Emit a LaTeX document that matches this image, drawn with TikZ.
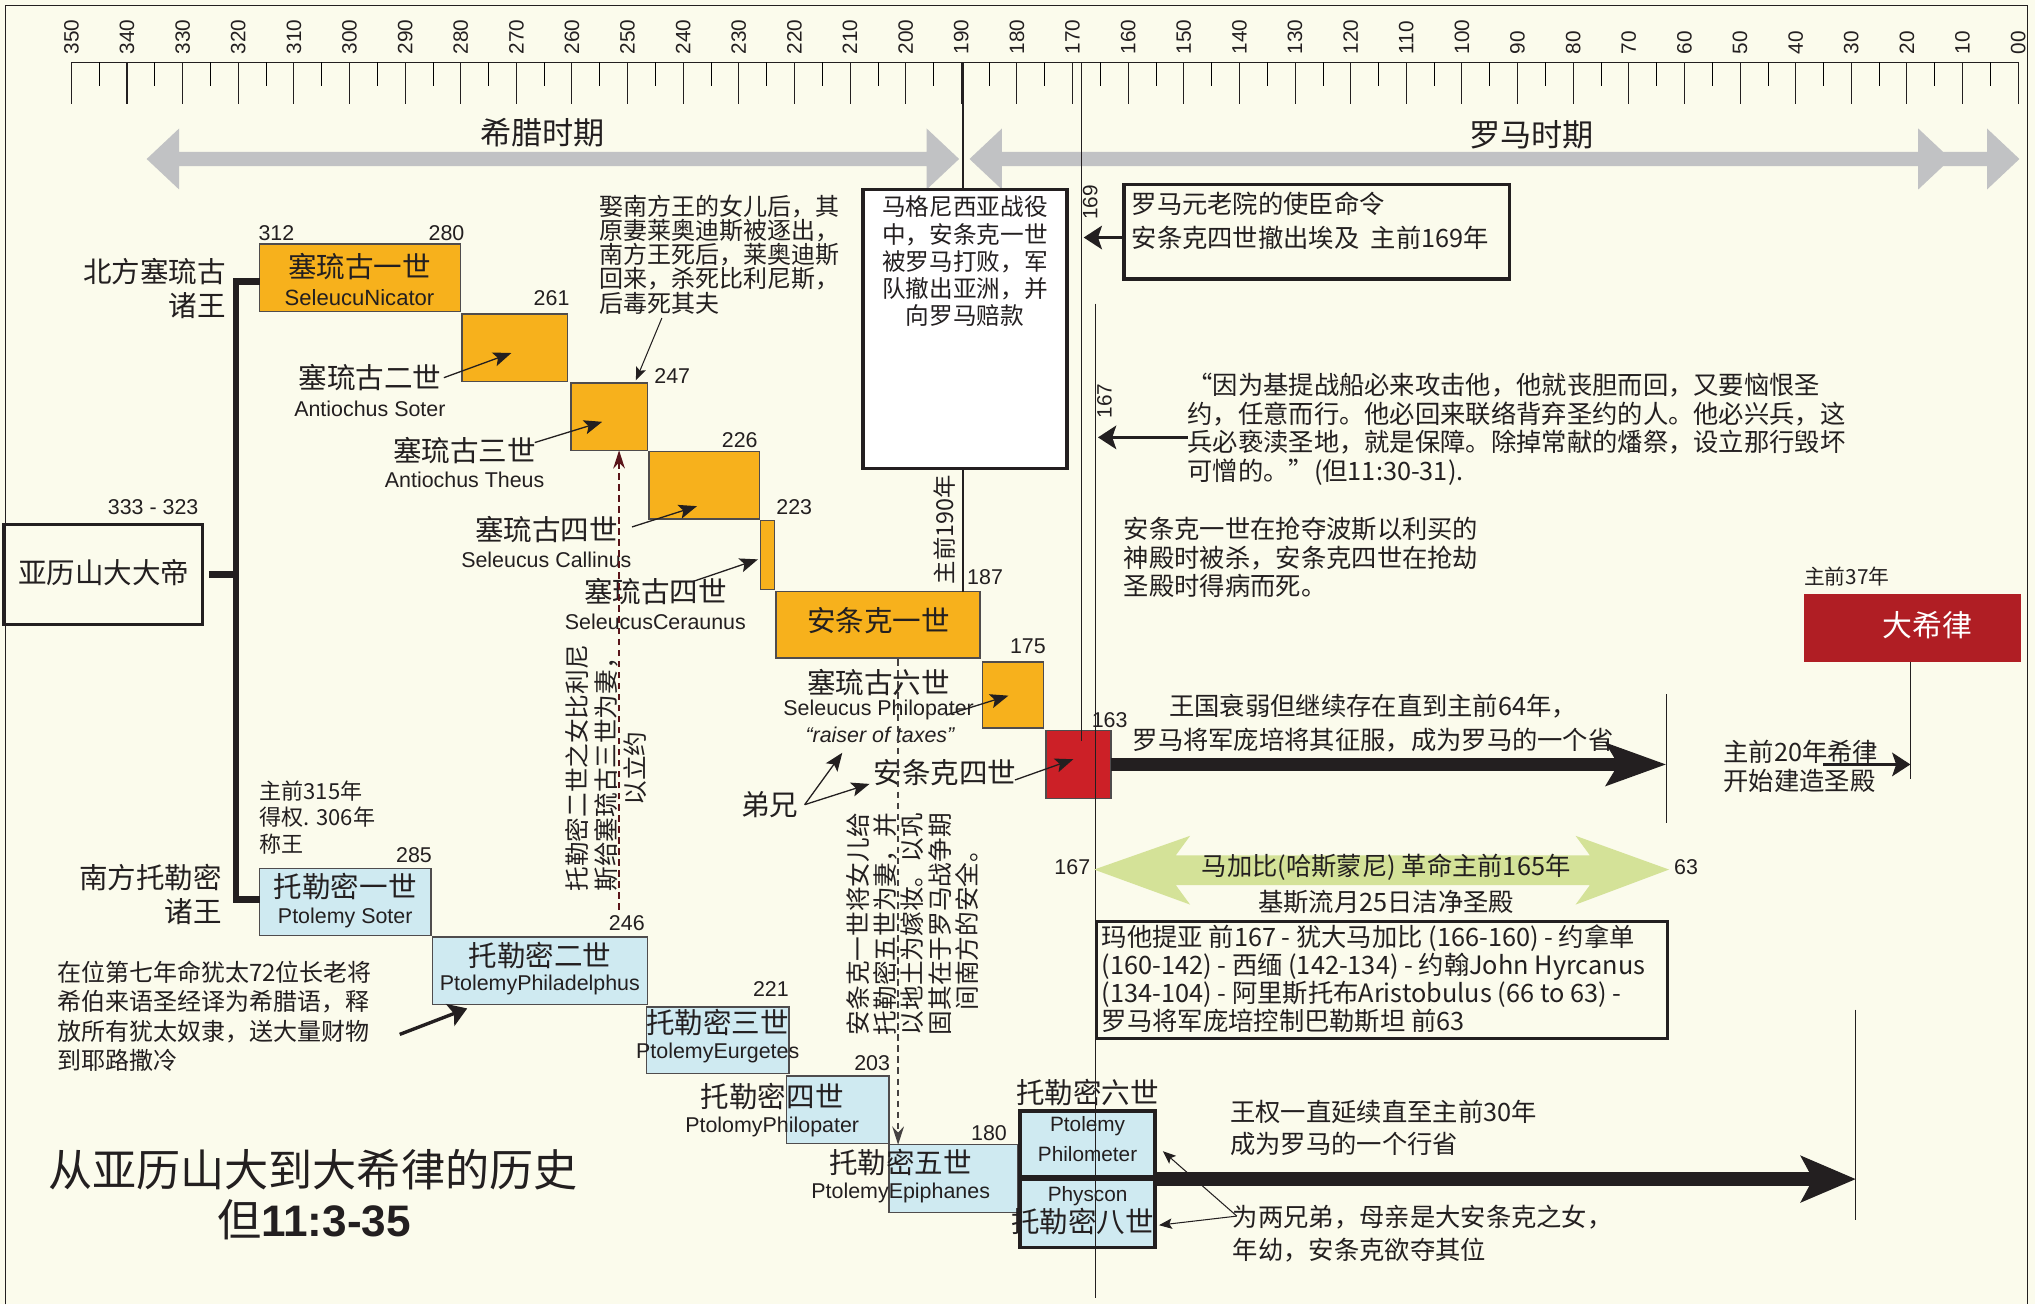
\documentclass[tikz,border=0pt]{standalone}
\usepackage{fontspec}
\setmainfont{Noto Sans CJK SC}
\newfontfamily\lat{Liberation Sans}
\usetikzlibrary{arrows.meta}

\definecolor{fundo}{RGB}{251,251,236}
\definecolor{tinta}{RGB}{35,31,32}
\definecolor{laranja}{RGB}{247,177,28}
\definecolor{azul}{RGB}{207,234,241}
\definecolor{vermelho}{RGB}{204,32,39}
\definecolor{vinho}{RGB}{176,30,36}
\definecolor{cinza}{RGB}{193,194,196}
\definecolor{verde}{RGB}{212,226,152}
\definecolor{marrom}{RGB}{90,20,25}

\newcommand{\tam}[2]{\fontsize{#1}{#2}\selectfont}

\begin{document}
\begin{tikzpicture}[x=1pt,y=-1pt,
  every node/.style={inner sep=0pt,outer sep=0pt,text=tinta},
  fina/.style={draw=tinta,line width=0.8pt},
  caixa/.style={draw=tinta!80,line width=1pt,anchor=north west},
  grossa/.style={draw=tinta,line width=2.6pt,anchor=north west},
  zh/.style={font=\tam{22}{26}},
  zhp/.style={font=\tam{19.5}{22}},
  en/.style={font=\lat\tam{16.5}{19}},
  ano/.style={font=\lat\tam{16.5}{19}},
  regua/.style={font=\lat\tam{16}{18},rotate=90,anchor=west},
  seta/.style={draw=tinta,line width=1pt,-{Stealth[length=14pt,width=11pt,inset=3pt]}},
  setafina/.style={draw=tinta,line width=0.8pt,-{Stealth[length=10pt,width=8pt,inset=2pt]}},
  setagrossa/.style={draw=tinta,line width=2.6pt,-{Stealth[length=14pt,width=18pt,inset=3pt]}},
  chave/.style={draw=tinta,line width=5pt},
  tracejado/.style={dash pattern=on 5pt off 3.5pt,line width=1pt}
]
\useasboundingbox (0,0) rectangle (1568,1005);

% fundo
\fill[fundo] (0,0) rectangle (1568,1005);
\draw[fina] (4,1005) -- (4,4) -- (1562,4) -- (1562,1005);

% regua
\draw[fina] (55,48) -- (1555,48);
\foreach \i [evaluate=\i as \xx using 55+42.857*\i] in {0,...,35}
  \draw[fina] (\xx,48) -- (\xx,80);
\foreach \i [evaluate=\i as \xx using 55+42.857*\i+21.43] in {0,...,34}
  \draw[line width=0.5pt] (\xx,48) -- (\xx,66);
\foreach \i [evaluate=\i as \xx using 55+42.857*\i, evaluate=\i as \anoR using int(350-10*\i)] in {0,...,34}
  \node[regua] (r\i) at (\xx,42) {\anoR};
\node[regua] (r35) at (1555,42) {00};

% periodos
\fill[cinza] (113,122.5) -- (138,99) -- (138,117) -- (714,117) -- (714,99) -- (739,122.5)
  -- (714,146) -- (714,128) -- (138,128) -- (138,146) -- cycle;
\fill[cinza] (747,122.5) -- (772,99) -- (772,117) -- (1531,117) -- (1531,128) -- (772,128) -- (772,146) -- cycle;
\fill[cinza] (1478,99) -- (1503,122.5) -- (1478,146) -- cycle;
\fill[cinza] (1531,99) -- (1556,122.5) -- (1531,146) -- cycle;
\node[font=\tam{24}{28}] (grego) at (418,102) {希腊时期};
\node[font=\tam{24}{28}] (romano) at (1180,104) {罗马时期};

% caixas selêucidas
\node[caixa,fill=laranja,minimum width=155pt,minimum height=52pt] (sel1) at (200,188) {};
\node[caixa,fill=laranja,minimum width=81pt,minimum height=52pt] (sel2) at (356,242) {};
\node[caixa,fill=laranja,minimum width=59pt,minimum height=52pt] (sel3) at (440,295) {};
\node[caixa,fill=laranja,minimum width=85pt,minimum height=52pt] (sel4) at (500,348) {};
\node[caixa,fill=laranja,minimum width=11pt,minimum height=53pt] (sel5) at (586,401) {};
\node[caixa,fill=laranja,minimum width=157pt,minimum height=51pt] (aq1) at (598,456) {};
\node[caixa,fill=laranja,minimum width=47pt,minimum height=51pt] (sel6) at (757,510) {};
\node[caixa,fill=vermelho,minimum width=50pt,minimum height=52pt] (av4) at (806,563) {};

% caixas ptolomaicas
\node[caixa,fill=azul,minimum width=132pt,minimum height=52pt] (p1) at (200,669) {};
\node[caixa,fill=azul,minimum width=166pt,minimum height=52pt] (p2) at (333,722) {};
\node[caixa,fill=azul,minimum width=110pt,minimum height=51pt] (p3) at (498,776) {};
\node[caixa,fill=azul,minimum width=79pt,minimum height=52pt] (p4) at (606,829) {};
\node[caixa,fill=azul,minimum width=99pt,minimum height=52pt] (p5) at (685,882) {};
\node[grossa,fill=azul,minimum width=104pt,minimum height=51pt] (p6) at (786,856) {};
\node[grossa,fill=azul,minimum width=104pt,minimum height=52pt] (p8) at (786,909) {};

% alexandre e chave
\node[grossa,fill=fundo,minimum width=153pt,minimum height=77pt] (alex) at (3,404) {};
\node[zh] (alexT) at (80,441) {亚历山大大帝};
\node[ano] (a333) at (118,391) {333 - 323};
\coordinate (ch1) at (182,217);
\coordinate (ch2) at (182,693);
\draw[chave] (sel1.west |- ch1) -- (ch1) -- (ch2) -- (p1.west |- ch2);
\draw[chave] ([xshift=5pt]alex.east) -- (alex.east -| ch1);
\node[zh,anchor=north east,align=right] (norte) at (174,199) {北方塞琉古\\诸王};
\node[zh,anchor=north east,align=right] (sul) at (171,666) {南方托勒密\\诸王};

% textos selêucidas
\node[zh] (n1) at (277,205) {塞琉古一世};
\node[en,font=\lat\tam{17}{19}] (n1e) at (277,229) {SeleucuNicator};
\node[ano] (a312) at (213,180) {312};
\node[ano] (a280) at (344,180) {280};
\node[ano] (a261) at (425,230) {261};
\node[ano] (a247) at (518,290) {247};
\node[ano] (a226) at (570,339) {226};
\node[ano] (a223) at (612,391) {223};
\node[ano] (a187) at (759,445) {187};
\node[ano] (a175) at (792,498) {175};
\node[ano] (a163) at (855,555) {163};

\node[zh] (n2) at (285,291) {塞琉古二世};
\node[en] (n2e) at (285,315) {Antiochus Soter};
\node[zh] (n3) at (358,347) {塞琉古三世};
\node[en] (n3e) at (358,370) {Antiochus Theus};
\node[zh] (n4) at (421,408) {塞琉古四世};
\node[en] (n4e) at (421,431) {Seleucus Callinus};
\node[zh] (n5) at (505,456) {塞琉古四世};
\node[en] (n5e) at (505,479) {SeleucusCeraunus};
\node[zh] (aq1T) at (677,478) {安条克一世};
\node[zh] (n7) at (677,526) {塞琉古六世};
\node[en] (n7e) at (677,547) {Seleucus Philopater};
\node[font=\lat\itshape\tam{16.5}{19}] (taxas) at (678,566) {“raiser of taxes”};
\node[zh] (n8) at (728,595) {安条克四世};
\node[zh] (irmao) at (593,620) {弟兄};

\coordinate (e2) at (394,272);
\coordinate (e3) at (464,325);
\coordinate (e4) at (537,390);
\coordinate (e5) at (584,431);
\coordinate (e7) at (777,536);
\coordinate (e8) at (827,585);
\draw[seta] ([xshift=2pt]n2.east) -- (e2);
\draw[seta] ([xshift=-1pt]n3.east |- 0,341) -- (e3);
\draw[seta] (487,406) -- (e4);
\draw[seta] (534,448) -- (e5);
\draw[seta] (729,551) -- (e7);
\draw[seta] (782,601) -- (e8);
\coordinate (ib) at (620,620);
\coordinate (ib1) at (649,580);
\coordinate (ib2) at (670,604);
\draw[seta] (ib) -- (ib1);
\draw[seta] (ib) -- (ib2);

% nota do casamento
\node[font=\tam{18.5}{18.7},anchor=north west,align=left] (casT) at (462,150) {娶南方王的女儿后，其\\原妻莱奥迪斯被逐出，\\南方王死后，莱奥迪斯\\回来，杀死比利尼斯，\\后毒死其夫};
\coordinate (c1) at (510,245);
\coordinate (c2) at (490,293);
\draw[setafina] (c1) -- (c2);

% magnesia
\coordinate (t190) at (742,48);
\draw[fina] (t190) -- (t190 |- aq1.north);
\node[grossa,fill=white,minimum width=157pt,minimum height=215pt] (mag) at (665,146) {};
\node[font=\tam{18.2}{21},align=center,anchor=north] (magT) at (743.5,151) {马格尼西亚战役\\中，安条克一世\\被罗马打败，军\\队撤出亚洲，并\\向罗马赔款};
\node[font=\tam{18}{21},rotate=90] (a190) at (728,408) {主前190年};

% linhas tracejadas
\coordinate (d1) at (477,701);
\draw[tracejado,marrom,-{Stealth[length=14pt,width=9pt]}] (d1) -- (d1 |- sel3.south);
\coordinate (d2) at (692,508);
\draw[tracejado,draw=tinta!85,-{Stealth[length=14pt,width=9pt]}] (d2) -- (d2 |- p5.north);
\node[font=\tam{19}{22.5},rotate=90,align=center] (casamento1) at (467,592) {托勒密二世之女比利尼\\斯给塞琉古三世为妻，\\以立约};
\node[font=\tam{19}{21},rotate=90,align=center] (casamento2) at (703,712) {安条克一世将女儿给\\托勒密五世为妻，并\\以地土为嫁妆。以巩\\固其在于罗马战争期\\间南方的安全。};

% textos ptolomaicos
\node[font=\tam{17}{20.5},anchor=north west,align=left] (a315) at (200,601.5) {主前315年\\得权. 306年\\称王};
\node[zh] (p1T) at (266,683) {托勒密一世};
\node[en] (p1e) at (266,707) {Ptolemy Soter};
\node[zh] (p2T) at (416,736) {托勒密二世};
\node[en] (p2e) at (416,759) {PtolemyPhiladelphus};
\node[zh] (p3T) at (553,788) {托勒密三世};
\node[en] (p3e) at (553,811) {PtolemyEurgetes};
\node[zh] (p4T) at (595,845) {托勒密四世};
\node[en] (p4e) at (595,868) {PtolomyPhilopater};
\node[zh] (p5T) at (694,896) {托勒密五世};
\node[en] (p5e) at (694,919) {PtolemyEpiphanes};
\node[zh,anchor=west] (p6T) at (783,842) {托勒密六世};
\node[en,font=\lat\tam{16}{18}] (p6a) at (838,868) {Ptolemy};
\node[en,font=\lat\tam{16}{18}] (p6b) at (838,889) {Philometer};
\node[en,font=\lat\tam{16}{18}] (p8a) at (838,922) {Physcon};
\node[zh,anchor=west] (p8T) at (779,941) {托勒密八世};
\node[ano] (a285) at (319,659) {285};
\node[ano] (a246) at (483,711) {246};
\node[ano] (a221) at (594,762) {221};
\node[ano] (a203) at (672,819) {203};
\node[ano] (a180) at (762,873) {180};

\node[font=\tam{18.5}{22.7},anchor=north west,align=left] (septuaginta) at (44,740.5) {在位第七年命犹太72位长老将\\希伯来语圣经译为希腊语，释\\放所有犹太奴隶，送大量财物\\到耶路撒冷};
\coordinate (sg1) at (308,797);
\coordinate (sg2) at (360,777);
\draw[setagrossa] (sg1) -- (sg2);

% titulo
\node[font=\tam{34}{40}] (titulo) at (241,901) {从亚历山大到大希律的历史};
\node[font=\tam{34}{40}] (titulo2) at (242,940) {但{\lat\bfseries 11:3-35}};

% lado romano
\node[grossa,minimum width=297pt,minimum height=73pt] (senado) at (866,142) {};
\node[zhp,anchor=west] (sen1) at (872,157) {罗马元老院的使臣命令};
\node[zhp,anchor=west] (sen2) at (872,183) {安条克四世撤出埃及\ \ 主前169年};
\coordinate (t169a) at (833,48);
\coordinate (t169b) at (833,571);
\draw[fina] (t169a) -- (t169b);
\node[ano,font=\lat\tam{16}{18},rotate=90] (a169) at (840,156) {169};
\coordinate (s169) at (835,183);
\draw[setagrossa] (sen2.west -| senado.west) -- (s169);

\coordinate (l167a) at (844,234);
\coordinate (l167b) at (844,1000);
\draw[fina] (l167a) -- (l167b);
\node[ano,font=\lat\tam{16}{18},rotate=90] (a167) at (851,309) {167};
\node[zhp,anchor=north west,align=left] (citacao) at (915,287.5) {“因为基提战船必来攻击他，他就丧胆而回，又要恼恨圣\\约，任意而行。他必回来联络背弃圣约的人。他必兴兵，这\\兵必亵渎圣地，就是保障。除掉常献的燔祭，设立那行毁坏\\可憎的。”(但11:30-31).};
\coordinate (s167) at (846,337);
\draw[setagrossa] (citacao.west |- s167) -- (s167);

\node[zhp,anchor=north west,align=left] (morte) at (866,398.5) {安条克一世在抢夺波斯以利买的\\神殿时被杀，安条克四世在抢劫\\圣殿时得病而死。};

% herodes
\node[font=\tam{16}{19},anchor=west] (a37) at (1390,444) {主前37年};
\node[anchor=north west,fill=vinho,minimum width=167pt,minimum height=52pt] (herodes) at (1390,458) {};
\node[font=\tam{23}{26},text=white] (herodesT) at (1485,482) {大希律};
\coordinate (h20) at (1472,600);
\draw[fina] (herodes.south -| h20) -- (h20);
\node[zhp,anchor=north west,align=left] (templo) at (1328,570.5) {主前20年希律\\开始建造圣殿};
\coordinate (h20s) at (1405,589);
\draw[setagrossa] (h20s) -- (h20 |- h20s);

% reino selêucida ate 64
\coordinate (l64a) at (1284,535);
\coordinate (l64b) at (1284,634);
\draw[fina] (l64a) -- (l64b);
\coordinate (tr64) at (1284,589);
\draw[draw=tinta,line width=10pt,-{Stealth[length=46pt,width=32pt,inset=9pt]}] (av4.east |- tr64) -- (tr64);
\node[zhp,align=center,font=\tam{19.5}{26}] (reino) at (1058,557) {王国衰弱但继续存在直到主前64年，\\罗马将军庞培将其征服，成为罗马的一个省};

% macabeus
\fill[verde] (843,670) -- (917,644) -- (906,659) -- (1225,659) -- (1214,644) -- (1286,670)
  -- (1214,697) -- (1225,682) -- (906,682) -- (917,697) -- cycle;
\node[zhp] (mac1) at (1068,668) {马加比(哈斯蒙尼) 革命主前165年};
\node[zhp] (mac2) at (1068,695) {基斯流月25日洁净圣殿};
\node[ano,anchor=east] (a167b) at (840,668) {167};
\node[ano,anchor=west] (a63) at (1290,668) {63};
\node[grossa,minimum width=440pt,minimum height=90pt] (hasmon) at (845,710) {};
\node[font=\tam{19.5}{21.7},anchor=north west,align=left] (hasmonT) at (849,712.5) {玛他提亚 前167 - 犹大马加比 (166-160) - 约拿单\\(160-142) - 西缅 (142-134) - 约翰John Hyrcanus\\(134-104) - 阿里斯托布Aristobulus (66 to 63) -\\罗马将军庞培控制巴勒斯坦 前63};

% reino ptolomaico ate 30
\coordinate (l30a) at (1430,778);
\coordinate (l30b) at (1430,940);
\draw[fina] (l30a) -- (l30b);
\coordinate (tr30) at (1430,908.5);
\draw[draw=tinta,line width=11pt,-{Stealth[length=42pt,width=35pt,inset=9pt]}] (p6.east |- tr30) -- (tr30);
\node[zhp,anchor=north west,align=left,font=\tam{19.5}{25}] (rei30) at (948,847.5) {王权一直延续直至主前30年\\成为罗马的一个行省};
\node[zhp,anchor=north west,align=left,font=\tam{19.5}{25}] (irmaos) at (950,928.5) {为两兄弟，母亲是大安条克之女，\\年幼，安条克欲夺其位};
\coordinate (ir0) at (953,937);
\coordinate (ir6) at (896,887);
\coordinate (ir8) at (893,944);
\draw[setafina] (ir0) -- (ir6);
\draw[setafina] (ir0) -- (ir8);

\end{tikzpicture}
\end{document}
